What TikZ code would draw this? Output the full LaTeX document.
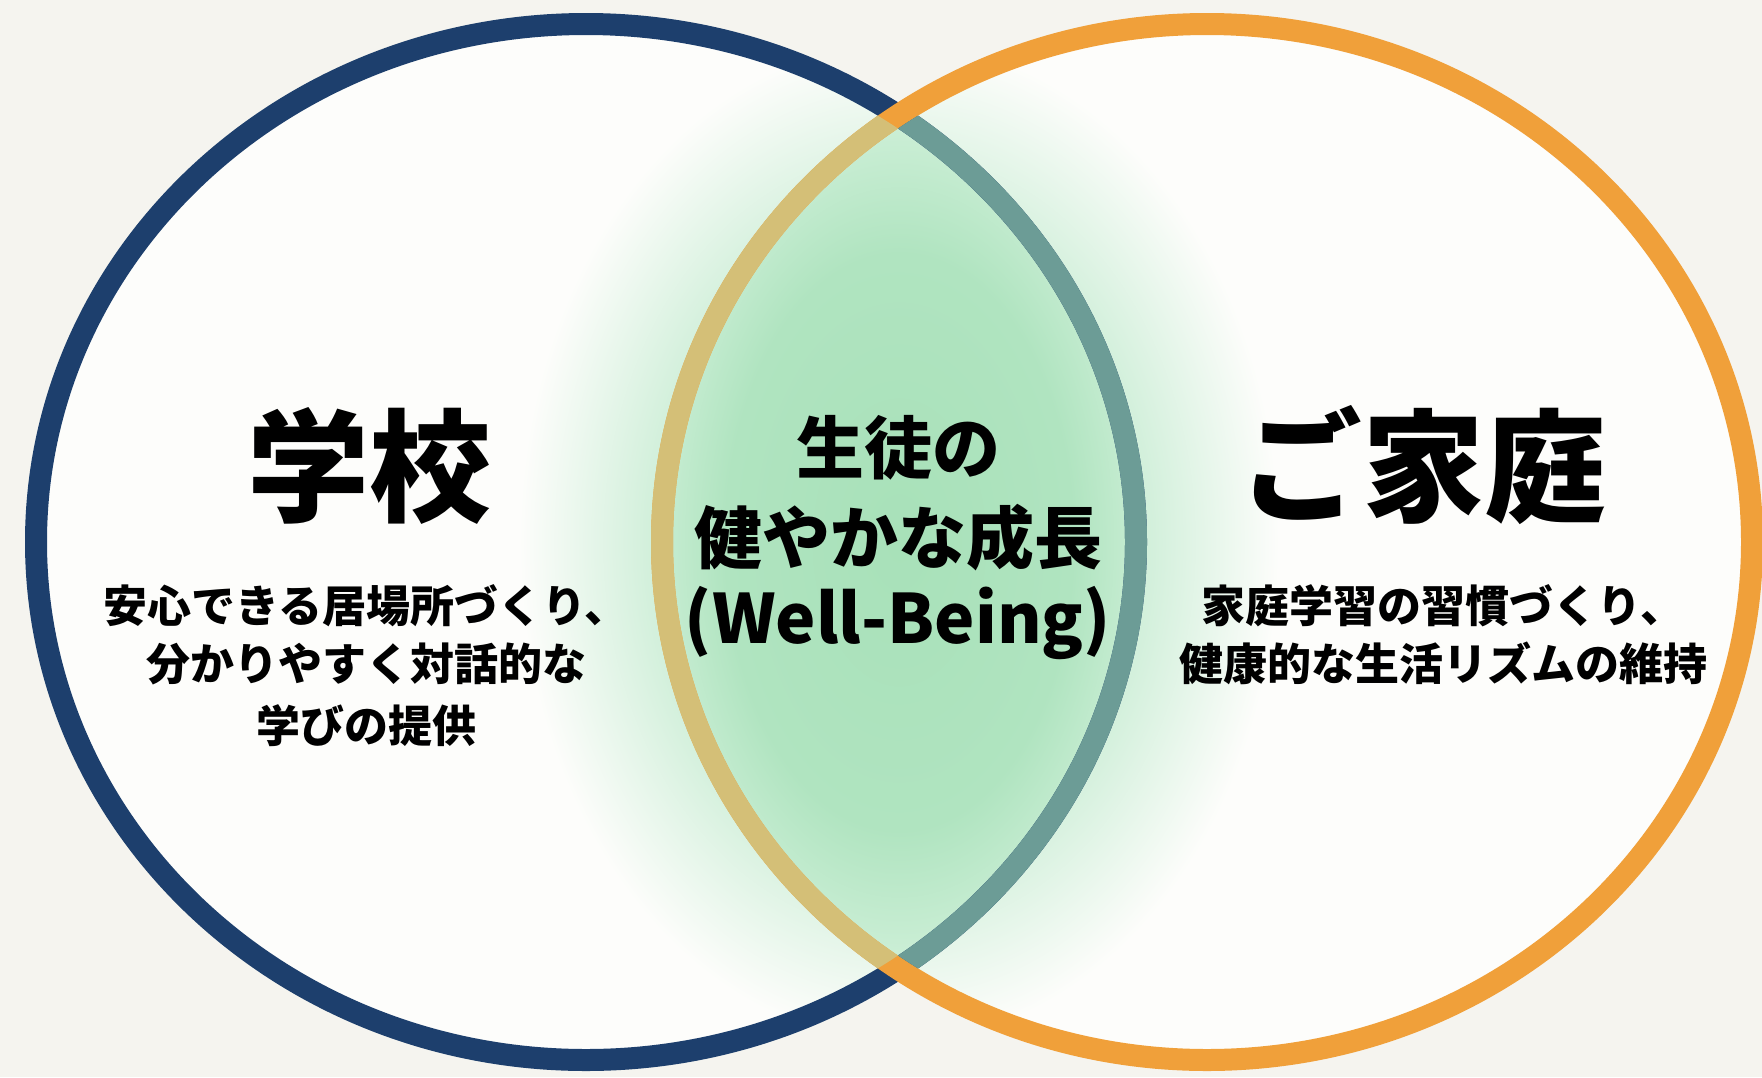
\documentclass[tikz,border=0pt]{standalone}
\usepackage{fontspec}
\newfontfamily\cjk{Noto Sans CJK JP}
\definecolor{bgc}{HTML}{F5F4EF}
\definecolor{inwhite}{HTML}{FDFDFB}
\definecolor{navyc}{HTML}{1D3F6D}
\definecolor{orangec}{HTML}{F0A03A}
\definecolor{tealc}{HTML}{6C9C96}
\definecolor{khakic}{HTML}{D4BF77}
\definecolor{glowA}{HTML}{B5E6C5}
\definecolor{glowB}{HTML}{C6ECD2}
\definecolor{lensA}{HTML}{A8E1B9}
\definecolor{lensB}{HTML}{B0E4C0}
\definecolor{lensC}{HTML}{CDEFD7}
\definecolor{lensD}{HTML}{E2F5E7}
\pgfdeclareradialshading{outerglow}{\pgfpointorigin}{color(0bp)=(glowA); color(14bp)=(glowB); color(25bp)=(inwhite); color(50bp)=(inwhite)}
\pgfdeclareradialshading{lensglow}{\pgfpointorigin}{color(0bp)=(lensA); color(15bp)=(lensB); color(22bp)=(lensC); color(25bp)=(lensD); color(50bp)=(lensD)}
\tikzset{
  ring/.style={line width=11pt},
  title/.style={anchor=base, inner sep=0pt, font=\cjk\bfseries\fontsize{61pt}{61pt}\selectfont},
  mid/.style={anchor=base, inner sep=0pt, font=\cjk\bfseries\fontsize{34pt}{34pt}\selectfont},
  sub/.style={anchor=base, inner sep=0pt, font=\cjk\bfseries\fontsize{22pt}{22pt}\selectfont},
  leftell/.style={x radius=275pt, y radius=259pt},
  rightell/.style={x radius=272.5pt, y radius=259pt}
}
\begin{document}
\begin{tikzpicture}[x=0.5pt,y=-0.5pt]
\useasboundingbox (0,0) rectangle (1762,1077);
\fill[bgc] (0,0) rectangle (1762,1077);
\coordinate (lc) at (586,542);
\coordinate (rc) at (1207,542);
\coordinate (mc) at (899,542);
% interiors
\fill[inwhite] (lc) ellipse [leftell];
\fill[inwhite] (rc) ellipse [rightell];
% faint outer glow
\begin{scope}
  \clip (lc) ellipse [leftell] (rc) ellipse [rightell];
  \shade[shading=outerglow] (mc) ellipse [x radius=190pt, y radius=250pt];
\end{scope}
% lens glow
\begin{scope}
  \clip (lc) ellipse [leftell];
  \clip (rc) ellipse [rightell];
  \fill[lensD] (0,0) rectangle (1762,1077);
  \shade[shading=lensglow] (mc) ellipse [x radius=145pt, y radius=240pt];
\end{scope}
% rings
\draw[ring, navyc] (lc) ellipse [leftell];
\draw[ring, orangec] (rc) ellipse [rightell];
\begin{scope}
  \clip (rc) ellipse [x radius=267pt, y radius=253.5pt];
  \draw[ring, tealc] (lc) ellipse [leftell];
\end{scope}
\begin{scope}
  \clip (lc) ellipse [x radius=269.5pt, y radius=253.5pt];
  \draw[ring, khakic] (rc) ellipse [rightell];
\end{scope}
% texts
\node[title] (school) at (369,512) {学校};
\node[title] (home) at (1423,512) {ご家庭};
\node[mid] (midA) at (898,473) {生徒の};
\node[mid] (midB) at (898,563) {健やかな成長};
\node[mid] (midC) at (898,643) {(Well-Being)};
\node[sub] (schA) at (366,622) {安心できる居場所づくり、};
\node[sub] (schB) at (366,680) {分かりやすく対話的な};
\node[sub] (schC) at (366,742) {学びの提供};
\node[sub] (homeA) at (1443,622) {家庭学習の習慣づくり、};
\node[sub] (homeB) at (1443,680) {健康的な生活リズムの維持};
\end{tikzpicture}
\end{document}
